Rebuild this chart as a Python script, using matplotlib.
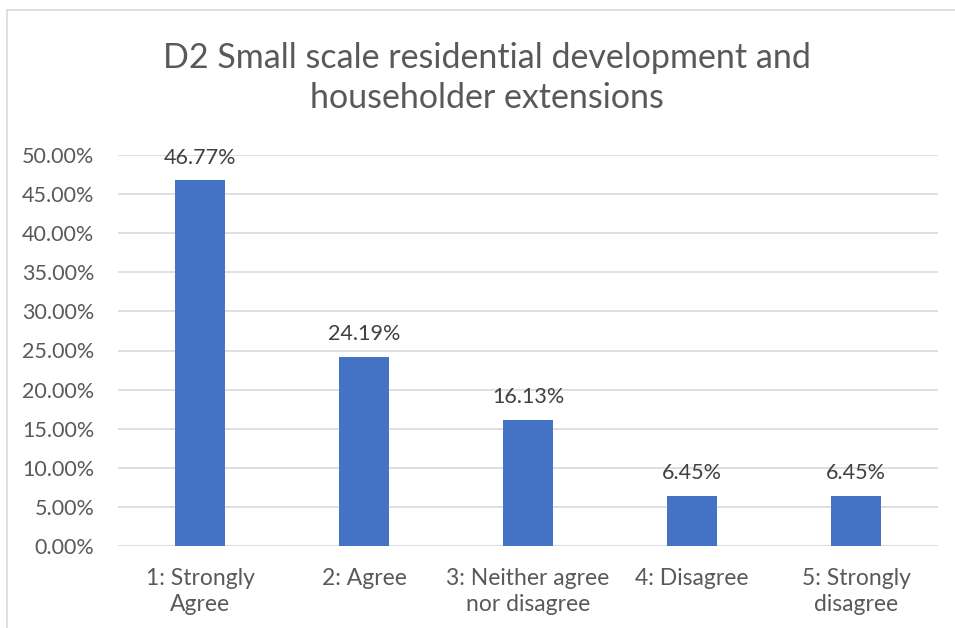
import matplotlib.pyplot as plt
import numpy as np
from matplotlib.patches import Rectangle

categories = ["1: Strongly\nAgree", "2: Agree", "3: Neither agree\nnor disagree", "4: Disagree", "5: Strongly\ndisagree"]
values = [46.77, 24.19, 16.13, 6.45, 6.45]
labels = ["46.77%", "24.19%", "16.13%", "6.45%", "6.45%"]
yticks = [0, 5, 10, 15, 20, 25, 30, 35, 40, 45, 50]

plt.rcParams['font.family'] = ['Lato', 'DejaVu Sans']

fig = plt.figure(figsize=(9.55, 6.28), dpi=100)
# chart border
fig.patches.append(Rectangle((7 / 955, -0.1), 1.2, (628 - 10) / 628 + 0.1, transform=fig.transFigure,
                             fill=False, edgecolor="#D9D9D9", linewidth=1.2))

ax = fig.add_axes([118 / 955, (628 - 546) / 628, (938 - 118) / 955, (546 - 155) / 628])
x = np.arange(len(values))
ax.bar(x, values, width=0.31, color="#4472C4", zorder=3)
for xi, v, lab in zip(x, values, labels):
    ax.text(xi, v + 1.6, lab, ha="center", va="bottom", fontsize=15.5, color="#404040")

ax.set_xlim(-0.5, len(values) - 0.5)
ax.set_ylim(0, 50)
ax.set_yticks(yticks)
ax.set_yticklabels([f"{t:.2f}%" for t in yticks])
ax.set_xticks(x)
ax.set_xticklabels(categories, linespacing=1.3)
ax.tick_params(axis="both", length=0, labelsize=15.5, labelcolor="#595959")
ax.tick_params(axis="x", labelsize=16.5, pad=16)
ax.tick_params(axis="y", pad=17)
ax.grid(axis="y", color="#D9D9D9", linewidth=1.2, zorder=0)
for s in ax.spines.values():
    s.set_visible(False)

fig.text(487 / 955, 1 - 78 / 628, "D2 Small scale residential development and\nhouseholder extensions",
         ha="center", va="center", fontsize=24.5, color="#595959", linespacing=1.3)

fig.savefig("out.png", dpi=100)
